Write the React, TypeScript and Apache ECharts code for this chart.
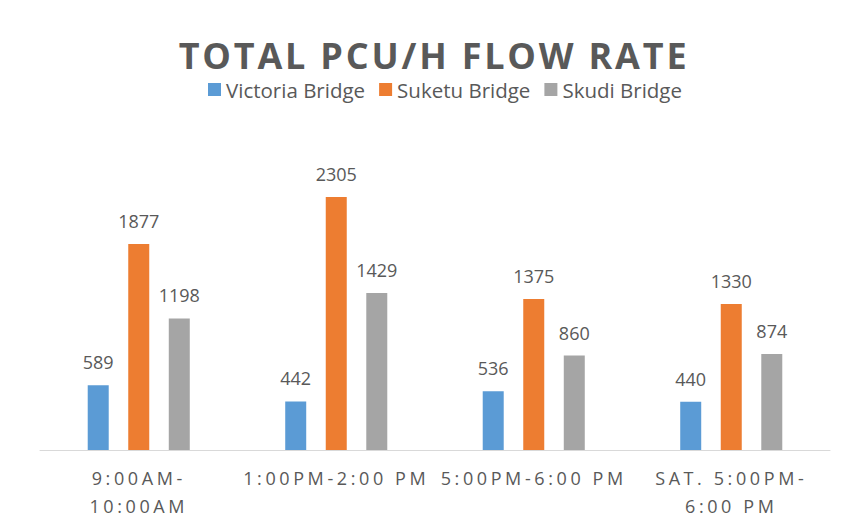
import React, { useEffect, useRef } from "react";
import * as echarts from "echarts";

const titleText = "TOTAL PCU/H FLOW RATE";
const categories = ["9:00AM-\n10:00AM", "1:00PM-2:00 PM", "5:00PM-6:00 PM", "SAT. 5:00PM-\n6:00 PM"];
const seriesNames = ["Victoria Bridge", "Suketu Bridge", "Skudi Bridge"];
const victoria = [589, 442, 536, 440];
const suketu = [1877, 2305, 1375, 1330];
const skudi = [1198, 1429, 860, 874];
const colors = ["#5B9BD5", "#ED7D31", "#A5A5A5"];

const FONT = "'Open Sans', sans-serif";
const TXT = "#595959";

export default function App() {
  const ref = useRef<HTMLDivElement>(null);
  useEffect(() => {
    const chart = echarts.init(ref.current!, null, { renderer: "svg" });
    const data = [victoria, suketu, skudi];
    chart.setOption({
      animation: false,
      backgroundColor: "#ffffff",
      title: {
        text: titleText,
        left: 434,
        textAlign: "center",
        top: 37,
        padding: 0,
        textStyle: { fontFamily: FONT, fontSize: 36, lineHeight: 36, fontWeight: "bold", color: TXT },
      },
      legend: {
        top: 79,
        left: 208,
        padding: 0,
        itemWidth: 13,
        itemHeight: 13,
        itemGap: 14,
        icon: "rect",
        textStyle: { fontFamily: FONT, fontSize: 20.5, color: TXT },
        data: seriesNames,
      },
      grid: { left: 40, right: 24, top: 175.5, bottom: 77, containLabel: false },
      xAxis: {
        type: "category",
        data: categories,
        axisLine: { show: true, lineStyle: { color: "#D9D9D9", width: 1 } },
        axisTick: { show: false },
        axisLabel: {
          interval: 0,
          margin: 14,
          fontFamily: FONT,
          fontSize: 18,
          lineHeight: 28,
          color: TXT,
        },
      },
      yAxis: { type: "value", min: 0, max: 2500, show: false, splitLine: { show: false } },
      series: seriesNames.map((name, i) => ({
        name,
        type: "bar",
        data: data[i],
        barWidth: 21,
        barGap: "93%",
        itemStyle: { color: colors[i] },
        label: {
          show: true,
          position: "top",
          distance: 14,
          fontFamily: FONT,
          fontSize: 18,
          color: TXT,
        },
      })),
    });
    const applySpacing = () => {
      const texts = ref.current?.querySelectorAll("text") || [];
      const catLines = new Set<string>();
      categories.forEach((c) => c.split("\n").forEach((l) => catLines.add(l)));
      texts.forEach((t: any) => {
        const s = (t.textContent || "").trim();
        if (s === titleText) t.setAttribute("letter-spacing", "2.8px");
        else if (catLines.has(s)) t.setAttribute("letter-spacing", "3.6px");
        else if (categories.includes(s)) t.setAttribute("letter-spacing", "3.6px");
      });
    };
    applySpacing();
    chart.on("finished", applySpacing);
    return () => chart.dispose();
  }, []);
  return (
    <div
      ref={ref}
      style={{ position: "fixed", left: 0, top: 0, width: 854, height: 527, background: "#fff" }}
    />
  );
}
